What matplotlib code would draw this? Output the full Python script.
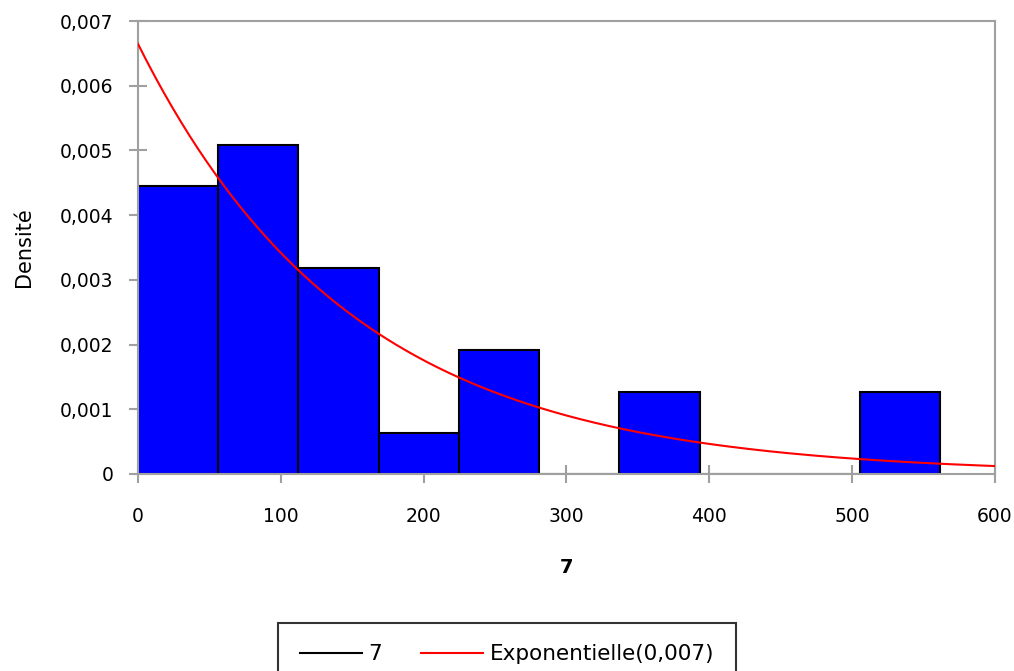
import numpy as np
import matplotlib.pyplot as plt
from matplotlib.ticker import FuncFormatter

# histogram (10 classes of width ~56.2)
bin_edges = [0, 56.2, 112.4, 168.6, 224.8, 281.0, 337.2, 393.4, 449.6, 505.8, 562.0]
densities = [0.00445, 0.00508, 0.00318, 0.00064, 0.00191, 0.0, 0.00127, 0.0, 0.0, 0.00127]
lam = 0.00665  # fitted rate, shown as 0,007 in the legend

y_ticks = [0, 0.001, 0.002, 0.003, 0.004, 0.005, 0.006, 0.007]
x_ticks = [0, 100, 200, 300, 400, 500, 600]

plt.rcParams['font.family'] = ['DejaVu Sans']
fig = plt.figure(figsize=(10.14, 6.71), dpi=100)
ax = fig.add_axes([0.136, 0.2936, 0.845, 0.675])

widths = np.diff(bin_edges)
ax.bar(bin_edges[:-1], densities, width=widths, align='edge',
       color='#0000ff', edgecolor='black', linewidth=1.5, zorder=2)

xs = np.linspace(0, 600, 400)
ax.plot(xs, lam * np.exp(-lam * xs), color='red', lw=1.5, zorder=3)

ax.set_xlim(0, 600)
ax.set_ylim(0, 0.007)
ax.set_xticks(x_ticks)
ax.set_yticks(y_ticks)

def comma_fmt(v, pos):
    if abs(v) < 1e-12:
        return '0'
    return ('%.3f' % v).replace('.', ',')

ax.yaxis.set_major_formatter(FuncFormatter(comma_fmt))
for s in ax.spines.values():
    s.set_color('#a0a0a0')
    s.set_linewidth(1.5)
ax.tick_params(direction='inout', length=13, width=1.5, color='#a0a0a0',
               labelsize=13.5)
ax.tick_params(axis='y', pad=11)
ax.tick_params(axis='x', pad=17)

ax.set_ylabel('Densité', fontsize=15, labelpad=19)
ax.set_xlabel('7', fontsize=14, fontweight='bold', labelpad=23)

h1, = ax.plot([], [], color='black', lw=1.5)
h2, = ax.plot([], [], color='red', lw=1.5)
leg = fig.legend([h1, h2], ['7', 'Exponentielle(0,007)'], ncol=2,
                 loc='upper center', bbox_to_anchor=(0.50, 0.072),
                 fontsize=15.5, frameon=True, fancybox=False,
                 handlelength=2.9, borderpad=1.0, columnspacing=1.8,
                 handletextpad=0.3, borderaxespad=0)
leg.get_frame().set_edgecolor('black')
leg.get_frame().set_linewidth(1.5)

fig.savefig('out.png', dpi=100)
